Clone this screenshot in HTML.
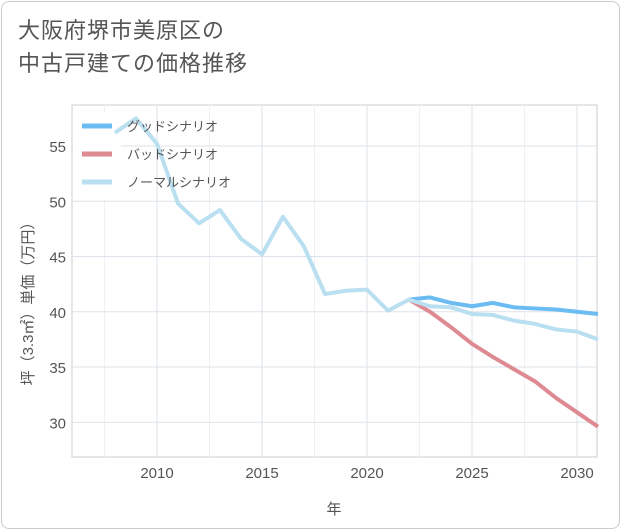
<!DOCTYPE html>
<html><head><meta charset="utf-8"><style>
body{margin:0;background:#fff;font-family:"Liberation Sans","Noto Sans CJK JP",sans-serif;}
#card{position:absolute;left:1px;top:1px;width:617px;height:526px;border:1px solid #ccc;border-radius:8px;background:#fff;}
#title{position:absolute;left:18px;top:14px;font-size:22px;line-height:33px;color:#555;letter-spacing:1px;}
</style></head><body>
<div id="card"></div>
<div id="title">大阪府堺市美原区の<br>中古戸建ての価格推移</div>
<svg id="chart" width="621" height="530" style="position:absolute;left:0;top:0"></svg>
<script>
const years=[2008,2009,2010,2011,2012,2013,2014,2015,2016,2017,2018,2019,2020,2021,2022,2023,2024,2025,2026,2027,2028,2029,2030,2031];
const normal=[56.2,57.5,55.2,49.8,48.0,49.2,46.6,45.2,48.6,45.9,41.6,41.9,42.0,40.1,41.1,40.5,40.4,39.8,39.7,39.2,38.9,38.4,38.2,37.5];
const goodYears=[2022,2023,2024,2025,2026,2027,2028,2029,2030,2031];
const good=[41.1,41.3,40.8,40.5,40.8,40.4,40.3,40.2,40.0,39.8];
const bad=[41.1,40.0,38.6,37.1,35.9,34.8,33.7,32.2,30.9,29.6];
const xTicks=[2010,2015,2020,2025,2030];
const yTicks=[30,35,40,45,50,55];
const legendLabels=["グッドシナリオ","バッドシナリオ","ノーマルシナリオ"];
const colors=["#6bbcf2","#de8a92","#b9dff0"];
const L=72,R=597,T=105,B=457;
const x=v=>157+(v-2010)*21;
const y=v=>146+(55-v)*11.05;
const svg=document.getElementById('chart');
const NS="http://www.w3.org/2000/svg";
function mk(t,a,p){const e=document.createElementNS(NS,t);for(const k in a)e.setAttribute(k,a[k]);(p||svg).appendChild(e);return e;}
const plot=mk('rect',{x:L,y:T,width:R-L,height:B-T,fill:'none',stroke:'#ccc'});


xTicks.forEach(t=>{const g=mk('line',{x1:x(t),x2:x(t),y1:T,y2:B,stroke:'#dde3ea'});


const tx=mk('text',{x:x(t),y:478,'text-anchor':'middle','font-size':15,fill:'#555'});tx.textContent=t;

});
[2007.5,2012.5,2017.5,2022.5,2027.5].forEach(t=>{const g=mk('line',{x1:x(t),x2:x(t),y1:T,y2:B,stroke:'#eef1f4'});

});
yTicks.forEach(t=>{const g=mk('line',{x1:L,x2:R,y1:y(t),y2:y(t),stroke:'#dde3ea'});


const tx=mk('text',{x:66,y:y(t)+6,'text-anchor':'end','font-size':15,fill:'#555'});tx.textContent=t;

});
const xt=mk('text',{x:334,y:514,'text-anchor':'middle','font-size':15,fill:'#555'});xt.textContent='年';


const yt=mk('text',{x:0,y:0,'text-anchor':'middle','font-size':15,fill:'#555',transform:'translate(33,300) rotate(-90)'});yt.textContent='坪（3.3㎡）単価（万円）';


const lb=mk('rect',{x:73,y:112,width:48,height:88,fill:'#fff'});


function line(xs,vs,c,name){const p=mk('polyline',{points:xs.map((v,i)=>x(v)+','+y(vs[i])).join(' '),fill:'none',stroke:c,'stroke-width':4,'stroke-linejoin':'round'});

}
line(goodYears,good,colors[0],'good-scenario-line');
line(goodYears,bad,colors[1],'bad-scenario-line');
line(years,normal,colors[2],'normal-scenario-line');
legendLabels.forEach((s,i)=>{const yy=126+i*28;
const l=mk('line',{x1:82,x2:112,y1:yy,y2:yy,stroke:colors[i],'stroke-width':5});


const t=mk('text',{x:127,y:yy+5,'font-size':13,fill:'#555'});t.textContent=s;

});
</script>
</body></html>
